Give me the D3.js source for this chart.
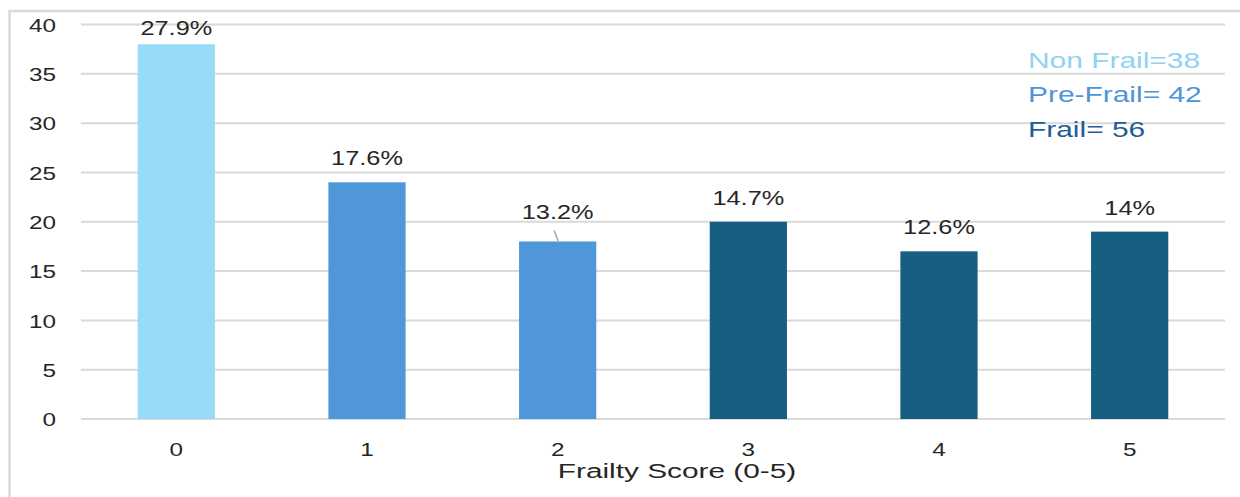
<!DOCTYPE html>
<html>
<head>
<meta charset="utf-8">
<script src="https://cdn.jsdelivr.net/npm/d3@7/dist/d3.min.js"></script>
<style>
  html, body { margin: 0; padding: 0; background: #fff; }
  svg { display: block; }
  text { font-family: "Liberation Sans", Arial, sans-serif; }
</style>
</head>
<body>
<svg id="chart" width="1240" height="497"></svg>
<script>
// ---- data ----
const categories = ["0", "1", "2", "3", "4", "5"];
const counts = [38, 24, 18, 20, 17, 19];
const percentLabels = ["27.9%", "17.6%", "13.2%", "14.7%", "12.6%", "14%"];
const groupOfBar = ["Non Frail", "Pre-Frail", "Pre-Frail", "Frail", "Frail", "Frail"];
const legendLabels = ["Non Frail=38", "Pre-Frail= 42", "Frail= 56"];
const legendGroups = ["Non Frail", "Pre-Frail", "Frail"];
const yTicks = [0, 5, 10, 15, 20, 25, 30, 35, 40];
const xTitle = "Frailty Score (0-5)";

(function () {
// ---- style ----
const barColor = d3.scaleOrdinal().domain(legendGroups).range(["#97dbf7", "#5097da", "#175f82"]);
const legendColor = d3.scaleOrdinal().domain(legendGroups).range(["#90d3f1", "#4e94d8", "#1f5e97"]);
const SX = 1.3; // horizontal text stretch of the reference

const svg = d3.select("#chart");
const pLeft = 81, pRight = 1225, pTop = 24.5, pBottom = 419;

// outer frame
svg.append("rect").attr("x", 9.5).attr("y", 11).attr("width", 1300).attr("height", 600)
  .attr("fill", "none").attr("stroke", "#d9d9d9").attr("stroke-width", 2.5);

const x = d3.scaleBand().domain(categories).range([pLeft, pRight]).padding(0);
const y = d3.scaleLinear().domain([0, 40]).range([pBottom, pTop]);
const barW = x.bandwidth() * 0.405;

// gridlines
svg.append("g").selectAll("line").data(yTicks).join("line")
  .attr("x1", pLeft).attr("x2", pRight)
  .attr("y1", d => y(d)).attr("y2", d => y(d))
  .attr("stroke", "#d9d9d9").attr("stroke-width", 2);

// y axis
const gy = svg.append("g").attr("transform", "translate(56,0)")
  .call(d3.axisLeft(y).tickValues(yTicks).tickSize(0).tickPadding(0));
gy.select(".domain").remove();
gy.selectAll("text").attr("x", 0).attr("dy", "0.38em")
  .attr("transform", `scale(1.35,1)`)
  .style("font-family", "'Liberation Sans', Arial, sans-serif")
  .style("font-size", "18px").attr("fill", "#262626");

// x axis
const gx = svg.append("g").attr("transform", "translate(0,449.5)")
  .call(d3.axisBottom(x).tickSize(0).tickPadding(0));
gx.select(".domain").remove();
gx.selectAll("text").attr("y", 0).attr("dy", "0.36em")
  .attr("transform", `scale(1.35,1)`)
  .style("font-family", "'Liberation Sans', Arial, sans-serif")
  .style("font-size", "18px").attr("fill", "#262626");

// bars
svg.append("g").selectAll("rect").data(categories).join("rect")
  .attr("x", (d) => x(d) + x.bandwidth() / 2 - barW / 2)
  .attr("width", barW)
  .attr("y", (d, i) => y(counts[i]))
  .attr("height", (d, i) => y(0) - y(counts[i]))
  .attr("fill", (d, i) => barColor(groupOfBar[i]));

// data labels
const labelLift = [9, 17, 22, 17, 17, 17];
const labels = svg.append("g").selectAll("g").data(categories).join("g")
  .attr("transform", (d, i) => `translate(${x(d) + x.bandwidth() / 2},${y(counts[i]) - labelLift[i]}) scale(${SX},1)`);
labels.append("text").attr("text-anchor", "middle")
  .attr("font-size", "19.5px").attr("fill", "#262626")
  .text((d, i) => percentLabels[i]);

// leader line for the moved label (bar 2)
svg.append("line")
  .attr("x1", x("2") + x.bandwidth() / 2 - 3.5).attr("y1", y(counts[2]) - 11)
  .attr("x2", x("2") + x.bandwidth() / 2 + 0.5).attr("y2", y(counts[2]) - 0.5)
  .attr("stroke", "#a6a6a6").attr("stroke-width", 1.5);

// legend text
const lg = svg.append("g").selectAll("g").data(legendLabels).join("g")
  .attr("transform", (d, i) => `translate(1028,${67.5 + i * 34.5}) scale(1.36,1)`);
lg.append("text").attr("font-size", "22px")
  .attr("fill", (d, i) => legendColor(legendGroups[i]))
  .text(d => d);

// x title
svg.append("g").attr("transform", `translate(677,477.5) scale(1.42,1)`)
  .append("text").attr("text-anchor", "middle").attr("font-size", "21px").attr("fill", "#262626")
  .text(xTitle);
})();
</script>
</body>
</html>
